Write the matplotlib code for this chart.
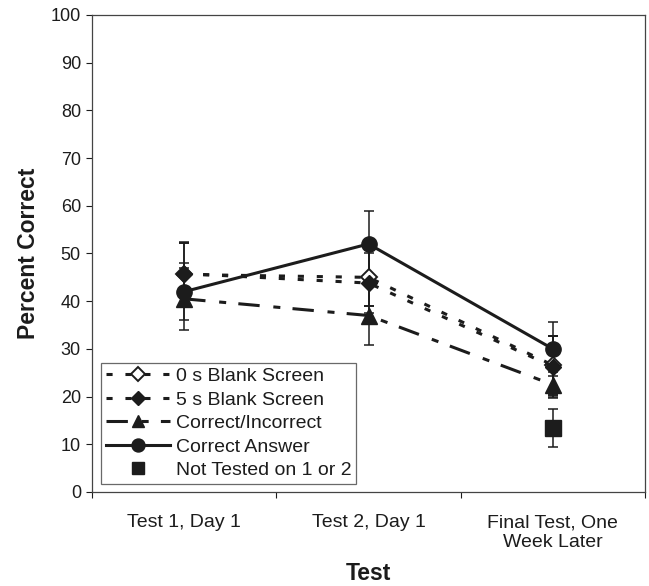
"""Percent correct across three tests, by feedback condition."""
import matplotlib

matplotlib.use("Agg")
import matplotlib.pyplot as plt
import numpy as np

# --- data ---
tests = ["Test 1, Day 1", "Test 2, Day 1", "Final Test, One\nWeek Later"]

blank0 = [45.6, 45.0, 26.6]
blank0_err = [6.5, 6.0, 6.2]
blank5 = [45.8, 43.8, 26.3]
blank5_err = [6.6, 6.2, 6.3]
corr_incorr = [40.5, 37.0, 22.5]
corr_incorr_err = [6.5, 6.2, 2.7]
corr_answer = [42.0, 52.0, 30.0]
corr_answer_err = [6.0, 7.0, 5.6]
not_tested = [13.4]
not_tested_err = [4.0]

yticks = list(range(0, 101, 10))

INK = "#1c1c1c"
plt.rcParams["font.family"] = ["Liberation Sans", "DejaVu Sans"]

fig = plt.figure(figsize=(6.49, 5.86), dpi=100)
ax = fig.add_axes([92 / 649, 1 - 492 / 586, 553 / 649, 477 / 586])

x = np.arange(1, len(tests) + 1)
err_kw = dict(ecolor=INK, elinewidth=1.1, capsize=3.3, capthick=1.1)
lw = 2.2

ax.errorbar(x, blank0, yerr=blank0_err, color=INK, lw=lw, dashes=(2, 4.2),
            marker="D", ms=8.2, mfc="white", mec=INK, mew=1.4,
            label="0 s Blank Screen", **err_kw)
ax.errorbar(x, blank5, yerr=blank5_err, color=INK, lw=lw, dashes=(2, 4.2),
            marker="D", ms=8.2, mfc=INK, mec=INK,
            label="5 s Blank Screen", **err_kw)
ax.errorbar(x, corr_incorr, yerr=corr_incorr_err, color=INK, lw=lw,
            dashes=(7, 4.5, 2.3, 4), marker="^", ms=11, mfc=INK, mec=INK,
            label="Correct/Incorrect", **err_kw)
ax.errorbar(x, corr_answer, yerr=corr_answer_err, color=INK, lw=lw,
            ls="-", marker="o", ms=11, mfc=INK, mec=INK,
            label="Correct Answer", **err_kw)
ax.errorbar(x[-1:], not_tested, yerr=not_tested_err, color=INK, ls="none",
            marker="s", ms=11, mfc=INK, mec=INK,
            label="Not Tested on 1 or 2", **err_kw)

ax.set_xlim(0.5, len(tests) + 0.5)
ax.set_ylim(0, 100)
ax.set_yticks(yticks)
ax.tick_params(axis="y", direction="out", length=4, width=0.8,
               labelsize=13, colors=INK, pad=4)

# category labels centred, tick marks on category boundaries
ax.set_xticks(np.arange(0.5, len(tests) + 1, 1.0))
ax.set_xticklabels([])
ax.tick_params(axis="x", which="major", direction="out", length=4, width=0.8,
               colors=INK)
ax.set_xticks(x, minor=True)
ax.set_xticklabels(tests, minor=True, fontsize=14, color=INK,
                   linespacing=1.2)
ax.tick_params(axis="x", which="minor", length=0, pad=16)

for side in ax.spines.values():
    side.set_color("#444444")
    side.set_linewidth(0.9)

ax.set_xlabel("Test", fontsize=16.5, fontweight="bold", color=INK, labelpad=8)
ax.set_ylabel("Percent Correct", fontsize=16.5, fontweight="bold", color=INK,
              labelpad=8)

# legend shows line + marker only, no error bars
handles, labels = ax.get_legend_handles_labels()
handles = [h[0] for h in handles]
leg = ax.legend(handles, labels, loc="lower left",
                bbox_to_anchor=(0.016, 0.017), borderaxespad=0,
                fontsize=14, frameon=True, fancybox=False, edgecolor="#444444",
                handlelength=3.3, handletextpad=0.3, labelspacing=0.3,
                borderpad=0.25, markerscale=0.85)
leg.get_frame().set_linewidth(0.9)
for t in leg.get_texts():
    t.set_color(INK)

fig.savefig("out.png", dpi=100)
